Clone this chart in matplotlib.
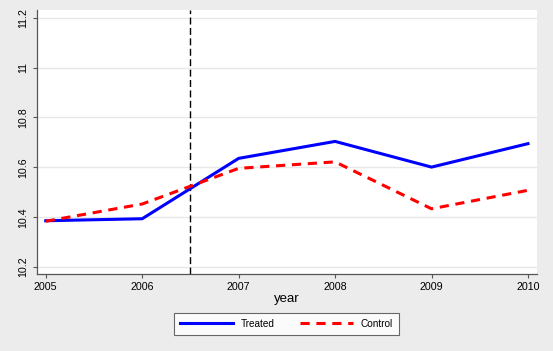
from matplotlib import pyplot as plt

years = [2005, 2006, 2007, 2008, 2009, 2010]
treated = [10.386, 10.394, 10.636, 10.704, 10.601, 10.695]
control = [10.384, 10.453, 10.596, 10.622, 10.434, 10.508]
yticks = [10.2, 10.4, 10.6, 10.8, 11, 11.2]
ytick_labels = ["10.2", "10.4", "10.6", "10.8", "11", "11.2"]
cutoff = 2006.5

plt.rcParams["font.family"] = ["Liberation Sans", "DejaVu Sans"]
bg = "#ececec"

fig = plt.figure(figsize=(5.53, 3.51), dpi=100, facecolor=bg)
ax = fig.add_axes([0.067, 0.219, 0.904, 0.752])
ax.set_facecolor("white")

ax.plot(years, treated, color="#0000ff", lw=2.2, label="Treated", zorder=5)
ax.plot(years, control, color="#ff0000", lw=2.2, ls=(0, (3, 2.2)), label="Control", zorder=6)
ax.axvline(cutoff, color="black", lw=1.0, ls=(0, (5, 2.5)), zorder=4)

ax.set_xlim(2004.91, 2010.093)
ax.set_ylim(10.172, 11.23)
ax.set_xticks(years)
ax.set_xticklabels([str(y) for y in years], fontsize=7.7)
ax.set_yticks(yticks)
ax.set_yticklabels(ytick_labels, fontsize=7.7, rotation=90, va="center")
ax.grid(True, axis="y", color="#e8e8e8", lw=1.0, zorder=0)
ax.tick_params(length=3, color="#555555", width=0.8, pad=3.5)
ax.tick_params(axis="x", pad=2.5)

for s in ["top", "right"]:
    ax.spines[s].set_visible(False)
for s in ["left", "bottom"]:
    ax.spines[s].set_color("#555555")
    ax.spines[s].set_linewidth(0.9)

ax.set_xlabel("year", fontsize=9.5, labelpad=1)

leg = fig.legend(loc="center", bbox_to_anchor=(0.518, 0.078), ncol=2, fontsize=7.2,
                 frameon=True, fancybox=False, handlelength=5.3, handletextpad=0.8,
                 columnspacing=2.5, borderpad=0.6, edgecolor="#444444")
leg.get_frame().set_facecolor("white")
leg.get_frame().set_linewidth(0.8)

plt.savefig("out.png", dpi=100, facecolor=bg)
